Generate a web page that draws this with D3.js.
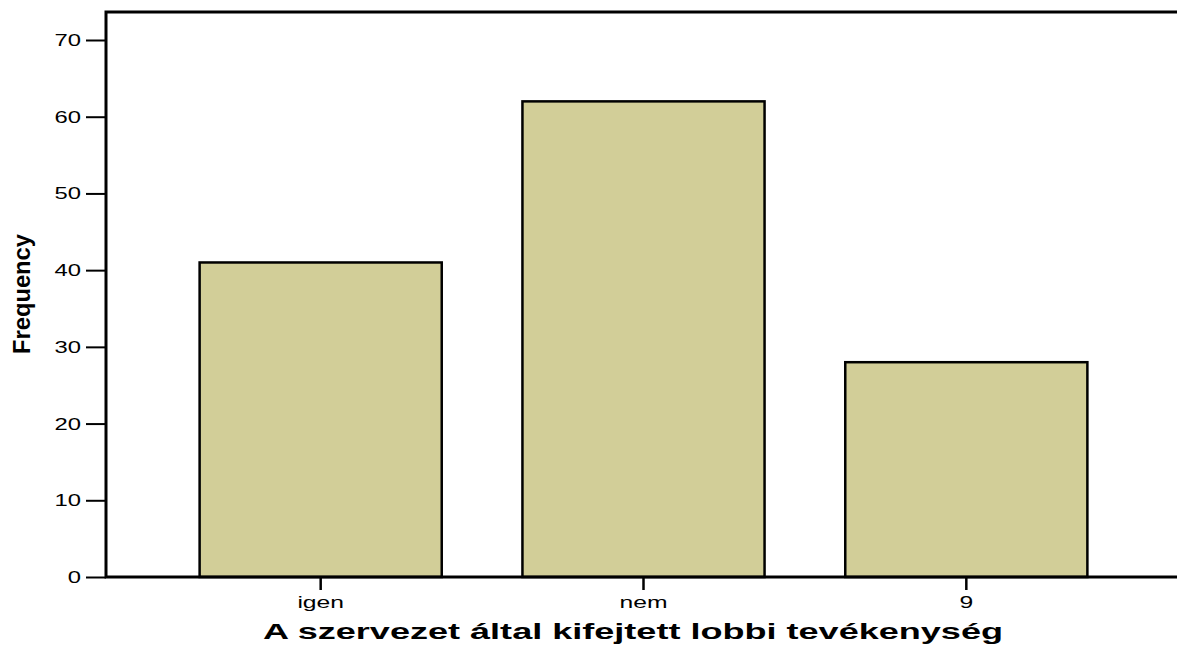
<!DOCTYPE html>
<html>
<head>
<meta charset="utf-8">
<script src="https://cdn.jsdelivr.net/npm/d3@7"></script>
<style>
  body { margin: 0; background: #fff; }
  text { font-family: "Liberation Sans", Arial, sans-serif; fill: #000; }
</style>
</head>
<body>
<div class="chart"></div>
<script>
// Data
var categories = ["igen", "nem", "9"];
var frequencies = [41, 62, 28];
var yTicks = [0, 10, 20, 30, 40, 50, 60, 70];
var xTitle = "A szervezet által kifejtett lobbi tevékenység";
var yTitle = "Frequency";

var svgWidth = 1177;
var svgHeight = 646;

// plot frame (right edge sits just outside the window, like the original)
var plot = { left: 106, top: 12, right: 1181, bottom: 577 };

var svg = d3
  .select(".chart")
  .append("svg")
  .attr("width", svgWidth)
  .attr("height", svgHeight);

var x = d3.scaleBand()
  .domain(categories)
  .range([plot.left, plot.right])
  .paddingInner(0.25)
  .paddingOuter(0.29);

var y = d3.scaleLinear()
  .domain([0, 73.65])
  .range([plot.bottom, plot.top]);

// text in the source is stretched sideways, so widen glyphs
function stretch(sel, k) {
  sel.each(function() {
    var w = this.getComputedTextLength();
    d3.select(this)
      .attr("textLength", w * k)
      .attr("lengthAdjust", "spacingAndGlyphs");
  });
}

// bars
svg.append("g")
  .selectAll("rect")
  .data(frequencies)
  .enter()
  .append("rect")
  .attr("x", function(d, i) { return x(categories[i]); })
  .attr("y", function(d) { return y(d); })
  .attr("width", x.bandwidth())
  .attr("height", function(d) { return y(0) - y(d); })
  .attr("fill", "#d2ce98")
  .attr("stroke", "#000")
  .attr("stroke-width", 2.5);

// y axis
var leftAxis = d3.axisLeft(y).tickValues(yTicks).tickSize(20).tickPadding(5);
var gy = svg.append("g")
  .attr("transform", "translate(" + plot.left + ",0)")
  .call(leftAxis);
gy.select(".domain").remove();
gy.selectAll(".tick line").attr("stroke", "#000").attr("stroke-width", 2);
gy.selectAll(".tick text")
  .attr("font-size", 17)
  .attr("font-family", null)
  .call(stretch, 1.4);

// x axis
var bottomAxis = d3.axisBottom(x).tickSize(13).tickPadding(6);
var gx = svg.append("g")
  .attr("transform", "translate(0," + plot.bottom + ")")
  .call(bottomAxis);
gx.select(".domain").remove();
gx.selectAll(".tick line").attr("stroke", "#000").attr("stroke-width", 2.5);
gx.selectAll(".tick text")
  .attr("font-size", 17)
  .attr("font-family", null)
  .call(stretch, 1.45);

// frame
svg.append("rect")
  .attr("x", plot.left)
  .attr("y", plot.top)
  .attr("width", plot.right - plot.left)
  .attr("height", plot.bottom - plot.top)
  .attr("fill", "none")
  .attr("stroke", "#000")
  .attr("stroke-width", 3);

// axis titles
svg.append("text")
  .attr("x", 633)
  .attr("y", 639)
  .attr("text-anchor", "middle")
  .attr("font-size", 22)
  .attr("font-weight", "bold")
  .attr("textLength", 740)
  .attr("lengthAdjust", "spacingAndGlyphs")
  .text(xTitle);

svg.append("text")
  .attr("transform", "translate(30,294) rotate(-90)")
  .attr("text-anchor", "middle")
  .attr("font-size", 24)
  .attr("font-weight", "bold")
  .attr("textLength", 120)
  .attr("lengthAdjust", "spacingAndGlyphs")
  .text(yTitle);
</script>
</body>
</html>
